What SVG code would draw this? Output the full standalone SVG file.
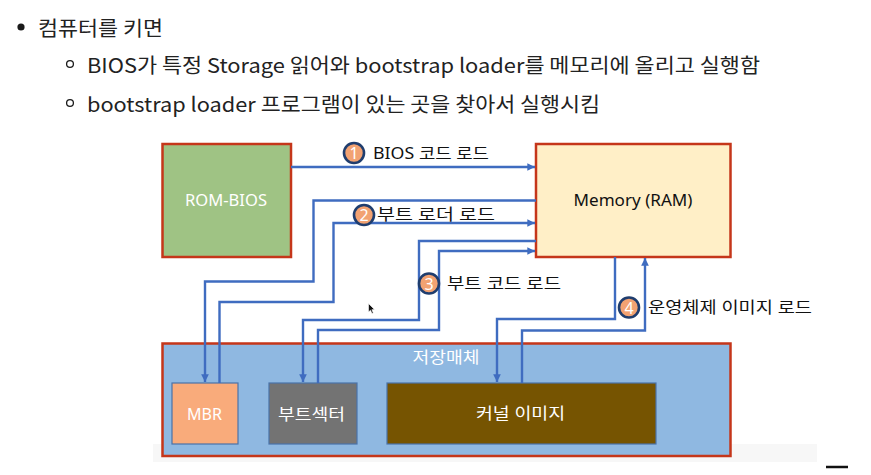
<svg xmlns="http://www.w3.org/2000/svg" width="871" height="475" viewBox="0 0 871 475">
<style>
.top{font-family:"Noto Sans CJK KR","Noto Sans",sans-serif;font-size:20px;fill:#222;dominant-baseline:central}
.lbl{font-family:"Noto Sans","Noto Sans CJK KR",sans-serif;font-size:16px;fill:#111;dominant-baseline:central}
.wt{font-family:"Noto Sans","Noto Sans CJK KR",sans-serif;font-size:16px;fill:#fff;dominant-baseline:central;text-anchor:middle}
.big{stroke:#c5361a;stroke-width:2.5}
.inner{stroke:#4a72a8;stroke-width:1.2}
.con{fill:none;stroke:#3f6cc0;stroke-width:2.4}
.badge circle{fill:#f2a272;stroke:#1f3d6e;stroke-width:2.6}
.badge text.n{font-family:"Noto Sans",sans-serif;font-size:16px;fill:#fff;text-anchor:middle;dominant-baseline:central}
.badge text.t{font-family:"Noto Sans","Noto Sans CJK KR",sans-serif;font-size:16px;fill:#111;dominant-baseline:central}
</style>
<defs>
<marker id="ah" viewBox="0 0 10 10" refX="10" refY="5" markerWidth="3.2" markerHeight="3.2" orient="auto" markerUnits="strokeWidth">
<path d="M0,0 L10,5 L0,10 Z" fill="#3f6cc0"/>
</marker>
</defs>
<rect width="871" height="475" fill="#fff"/>
<rect x="153" y="444" width="664" height="18" fill="#f7f7f7"/>

<g id="bullets">
<circle cx="21" cy="27" r="3.6" fill="#1a1a1a"/>
<text class="top" x="38" y="27" textLength="125" lengthAdjust="spacingAndGlyphs">컴퓨터를 키면</text>
<circle cx="70" cy="64" r="3.4" fill="none" stroke="#1a1a1a" stroke-width="1.3"/>
<text class="top" x="87" y="64" textLength="673" lengthAdjust="spacingAndGlyphs">BIOS가 특정 Storage 읽어와 bootstrap loader를 메모리에 올리고 실행함</text>
<circle cx="70" cy="103" r="3.4" fill="none" stroke="#1a1a1a" stroke-width="1.3"/>
<text class="top" x="87" y="103" textLength="513" lengthAdjust="spacingAndGlyphs">bootstrap loader 프로그램이 있는 곳을 찾아서 실행시킴</text>
</g>

<g id="rom-bios">
<rect class="big" x="162.5" y="144" width="128.5" height="113" fill="#9fc384"/>
<text class="wt" x="226" y="200" textLength="82" lengthAdjust="spacingAndGlyphs">ROM-BIOS</text>
</g>
<g id="memory">
<rect class="big" x="536" y="144" width="194.5" height="113" fill="#ffefc7"/>
<text class="lbl" x="633" y="200" text-anchor="middle" textLength="119" lengthAdjust="spacingAndGlyphs">Memory (RAM)</text>
</g>
<g id="storage">
<rect class="big" x="162.5" y="343.5" width="568" height="112.5" fill="#8fb8e1"/>
<text class="wt" x="446" y="357" textLength="67" lengthAdjust="spacingAndGlyphs">저장매체</text>
</g>
<g id="mbr">
<rect class="inner" x="172" y="383" width="66" height="61" fill="#f9ab7b"/>
<text class="wt" x="204.5" y="413.5" textLength="35" lengthAdjust="spacingAndGlyphs">MBR</text>
</g>
<g id="bootsector">
<rect class="inner" x="269" y="383" width="88" height="61" fill="#737373"/>
<text class="wt" x="311.5" y="413.5" textLength="67" lengthAdjust="spacingAndGlyphs">부트섹터</text>
</g>
<g id="kernel">
<rect class="inner" x="387" y="383" width="269" height="61" fill="#765401"/>
<text class="wt" x="520.5" y="413" textLength="89" lengthAdjust="spacingAndGlyphs">커널 이미지</text>
</g>

<g id="connectors">
<path class="con" d="M291,167 H535" marker-end="url(#ah)"/>
<path class="con" d="M536,200.5 H313.5 V281.5 H205 V382" marker-end="url(#ah)"/>
<path class="con" d="M219.5,383 V302 H333.5 V223 H535" marker-end="url(#ah)"/>
<path class="con" d="M536,241 H419 V320 H303 V382" marker-end="url(#ah)"/>
<path class="con" d="M318,383 V330 H439 V251 H535" marker-end="url(#ah)"/>
<path class="con" d="M615,257 V319 H497 V382" marker-end="url(#ah)"/>
<path class="con" d="M522,383 V330.5 H645 V258" marker-end="url(#ah)"/>
</g>

<g id="badge1" class="badge">
<circle cx="354" cy="153" r="10"/><text class="n" x="354" y="153">1</text>
<text class="t" x="373" y="153" textLength="116" lengthAdjust="spacingAndGlyphs">BIOS 코드 로드</text>
</g>
<g id="badge2" class="badge">
<circle cx="364" cy="215" r="10"/><text class="n" x="364" y="215">2</text>
<text class="t" x="377" y="214" textLength="118" lengthAdjust="spacingAndGlyphs">부트 로더 로드</text>
</g>
<g id="badge3" class="badge">
<circle cx="429" cy="283.5" r="10"/><text class="n" x="429" y="283.5">3</text>
<text class="t" x="447" y="283" textLength="114" lengthAdjust="spacingAndGlyphs">부트 코드 로드</text>
</g>
<g id="badge4" class="badge">
<circle cx="629" cy="307.5" r="10"/><text class="n" x="629" y="307.5">4</text>
<text class="t" x="648" y="307" textLength="164" lengthAdjust="spacingAndGlyphs">운영체제 이미지 로드</text>
</g>

<path d="M368.5,303.5 L368.5,312 L370.5,310.2 L372,313.5 L373.3,312.9 L371.9,309.7 L374.5,309.5 Z" fill="#111" stroke="#fff" stroke-width="0.6"/>
<line x1="826" y1="467" x2="848" y2="467" stroke="#111" stroke-width="2.5"/>
</svg>
